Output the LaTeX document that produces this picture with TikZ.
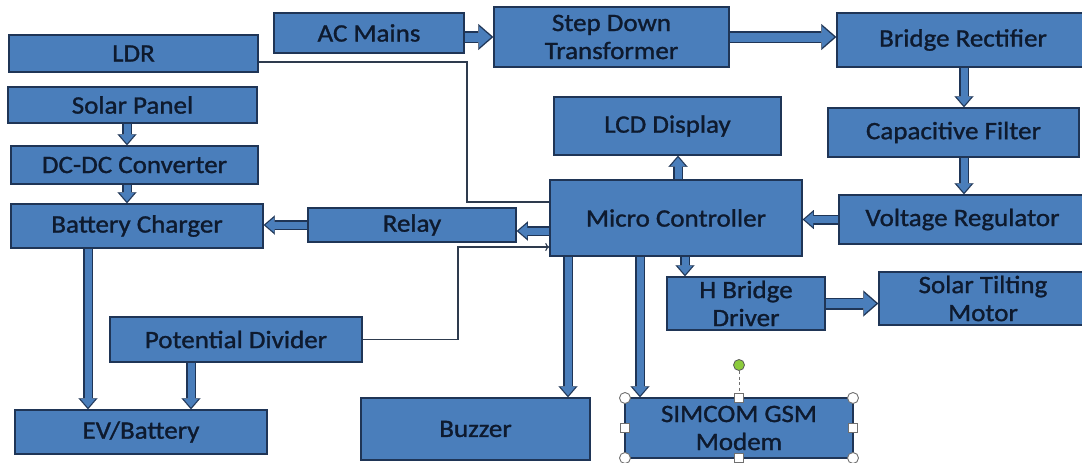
\documentclass[tikz,border=0pt]{standalone}
\usepackage{fontspec}
\setmainfont{Carlito}[FakeStretch=1.08,FakeBold=1.2]
\usetikzlibrary{arrows.meta,calc}
\definecolor{bfill}{HTML}{4A7EBB}
\definecolor{bline}{HTML}{1F3556}
\definecolor{btext}{HTML}{0E1A2E}
\definecolor{tline}{HTML}{2E3B4E}
\definecolor{hgray}{HTML}{707070}
\definecolor{hgreen}{HTML}{8CCB3C}
\tikzset{
  bx/.style={rectangle, draw=bline, fill=bfill, line width=1.5pt, text=btext,
    inner sep=0pt, align=center, font=\fontsize{25}{28}\selectfont},
  narr/.style={line width=10pt, draw=bline,
    -{Triangle[length=11pt,width=19pt,line width=0.01pt]},
    postaction={draw=bfill, line width=7pt,
      -{Triangle[length=8.5pt,width=14.5pt,line width=0.01pt]}, shorten >=1.8pt}},
  barr/.style={line width=12pt, draw=bline,
    -{Triangle[length=15pt,width=26pt,line width=0.01pt]},
    postaction={draw=bfill, line width=9pt,
      -{Triangle[length=12pt,width=21pt,line width=0.01pt]}, shorten >=2.2pt}},
  thinln/.style={draw=tline, line width=1.1pt},
  hcirc/.style={draw=hgray, fill=white, line width=0.9pt},
}
\newcommand\blockbox[6]{%
  \node[bx, minimum width={#4-#2}, minimum height={#5-#3}]
    (#1) at ({(#2+#4)/2},{(#3+#5)/2}) {#6};}
\begin{document}
\begin{tikzpicture}[x=1pt,y=-1pt]
\useasboundingbox (0,0) rectangle (1082,463);
\fill[white] (0,0) rectangle (1082,463);

\blockbox{ldr}{9}{35}{258}{72}{LDR}
\blockbox{ac}{274}{13}{464}{53}{AC Mains}
\blockbox{sd}{494}{7}{729}{67}{Step Down\\Transformer}
\blockbox{br}{837}{13}{1089}{67}{Bridge Rectifier}
\blockbox{sp}{8}{87}{257}{123}{Solar Panel}
\blockbox{dc}{11}{146}{258}{184}{DC-DC Converter}
\blockbox{bc}{11}{204}{263}{248}{Battery Charger}
\blockbox{rl}{308}{208}{516}{242}{Relay}
\blockbox{lcd}{554}{97}{781}{155}{LCD Display}
\blockbox{cf}{828}{108}{1079}{157}{Capacitive Filter}
\blockbox{mc}{550}{180}{802}{256}{Micro Controller}
\blockbox{vr}{839}{195}{1086}{244}{Voltage Regulator}
\blockbox{hb}{667}{277}{825}{330}{H Bridge\\Driver}
\blockbox{stm}{879}{272}{1087}{325}{Solar Tilting\\Motor}
\blockbox{pd}{110}{317}{362}{362}{Potential Divider}
\blockbox{ev}{15}{410}{267}{454}{EV/Battery}
\blockbox{bz}{361}{398}{590}{460}{Buzzer}
\blockbox{sim}{625}{398}{853}{458}{SIMCOM GSM\\Modem}

% helper coordinates
\coordinate (x127) at (127,0);
\coordinate (x88) at (88,0);
\coordinate (x191) at (191,0);
\coordinate (x964) at (964,0);
\coordinate (x678) at (678,0);
\coordinate (x568) at (568,0);
\coordinate (x640) at (640,0);
\coordinate (x685) at (685,0);
\coordinate (y231) at (0,231);
\coordinate (y62) at (0,62);
\coordinate (ldrturn) at (467,202);
\coordinate (pdturn) at (458,247);

% block arrows
\draw[barr] (sd.west -| ac.east) -- (sd.west);
\draw[barr] (sd.east) -- (br.west |- sd.east);
\draw[barr] (hb.east) -- (stm.west |- hb.east);
\draw[narr] (br.south -| x964) -- (cf.north -| x964);
\draw[narr] (cf.south -| x964) -- (vr.north -| x964);
\draw[narr] (vr.west) -- (mc.east |- vr.west);
\draw[narr] (mc.north -| x678) -- (lcd.south -| x678);
\draw[narr] (mc.west |- y231) -- (rl.east |- y231);
\draw[narr] (rl.west) -- (bc.east |- rl.west);
\draw[narr] (sp.south -| x127) -- (dc.north -| x127);
\draw[narr] (dc.south -| x127) -- (bc.north -| x127);
\draw[narr] (bc.south -| x88) -- (ev.north -| x88);
\draw[narr] (pd.south -| x191) -- (ev.north -| x191);
\draw[narr] (mc.south -| x568) -- (bz.north -| x568);
\draw[narr] (mc.south -| x640) -- (sim.north -| x640);
\draw[narr] (mc.south -| x685) -- (hb.north -| x685);

% thin signal lines
\draw[thinln] (ldr.east |- y62) -| (ldrturn) -- (mc.west |- ldrturn);
\draw[thinln, -{To[length=4pt,width=8pt]}] (pd.east) -| (pdturn) -- (mc.west |- pdturn);

% selection handles around the modem box
\draw[hgray, line width=0.9pt, dash pattern=on 3pt off 2.5pt] (739,371) -- (739,394);
\draw[draw=hgray!80!black, fill=hgreen, line width=0.8pt] (739,365) circle (5.5);
\foreach \p in {(625,398),(853,398),(625,458),(853,458)}
  \draw[hcirc] \p circle (5.5);
\foreach \p in {(739,398),(625,428),(853,428),(739,458)}
  \draw[hcirc] \p ++(-4.5,-4.5) rectangle ++(9,9);
\end{tikzpicture}
\end{document}
